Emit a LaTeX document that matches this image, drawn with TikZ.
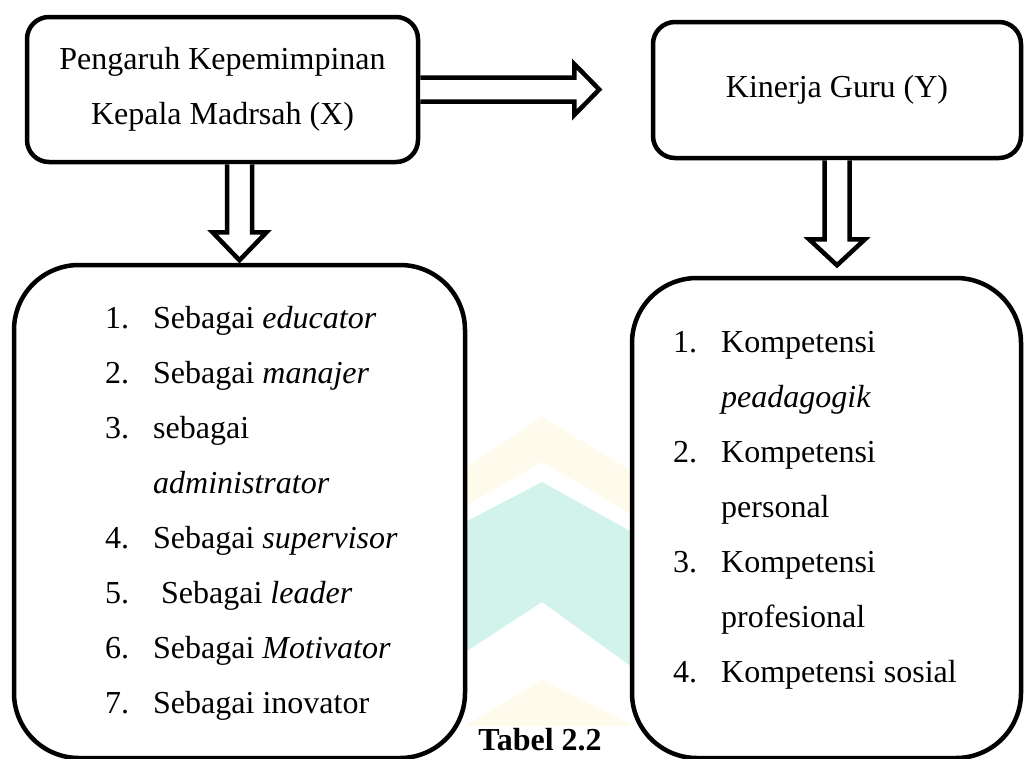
\documentclass[tikz,border=0pt]{standalone}
\usepackage{fontspec}
\setmainfont{Liberation Serif}
\usetikzlibrary{calc}

\definecolor{wmteal}{RGB}{210,242,236}
\definecolor{wmyellow}{RGB}{255,251,236}

\tikzset{
  box/.style={draw, line width=4.5pt, fill=white, rounded corners=22pt, align=center, inner sep=0pt},
  bigbox/.style={box, rounded corners=65pt},
  blockarr/.style={draw, line width=4.5pt, fill=white, line join=miter},
  listtxt/.style={inner sep=0pt, anchor=base west},
}

\begin{document}
\begin{tikzpicture}[x=1pt, y=-1pt, font=\fontsize{32}{55}\selectfont]

\useasboundingbox (0,0) rectangle (1025,758);

% --- Watermark (faint logo) ---
\fill[wmyellow] (450,478) -- (542,417) -- (650,482) -- (650,525) -- (542,462) -- (450,515) -- cycle;
\fill[wmteal] (450,530) -- (542,482) -- (650,542) -- (650,680) -- (542,602) -- (450,662) -- cycle;
\fill[wmyellow] (465,726) -- (542,680) -- (635,726) -- cycle;

% --- Boxes ---
\node[box, minimum width=391pt, minimum height=145pt] (kepala) at (222.5,89.5)
  {Pengaruh Kepemimpinan\\Kepala Madrsah (X)};
\node[box, minimum width=368pt, minimum height=136pt] (kinerja) at (837,90)
  {\raisebox{4pt}{Kinerja Guru (Y)}};
\node[bigbox, minimum width=451pt, minimum height=493pt] (peran) at (239.5,511.5) {};
\node[bigbox, minimum width=389pt, minimum height=480pt] (kompetensi) at (826.5,518) {};

% --- Block arrows ---
% X -> Y
\draw[blockarr] (kepala.east) +(0,-12) -- +(154,-12) -- +(154,-25.5) -- +(179,0)
  -- +(154,25.5) -- +(154,12) -- +(0,12);
% X -> roles
\draw[blockarr] (kepala.south -| peran.north) +(-12.5,0) -- +(-12.5,68) -- +(-27,68)
  -- +(0,96) -- +(27,68) -- +(12.5,68) -- +(12.5,0);
% Y -> competences
\draw[blockarr] (kinerja.south) +(-12.5,0) -- +(-12.5,79) -- +(-28,79)
  -- +(0,105) -- +(28,79) -- +(12.5,79) -- +(12.5,0);

% --- Lists ---
\node[listtxt] (peranlist) at (105,328) {\begin{tabular}[t]{@{}l@{\hspace{24pt}}l@{}}
  1. & Sebagai \textit{educator}\\
  2. & Sebagai \textit{manajer}\\
  3. & sebagai\\
     & \textit{administrator}\\
  4. & Sebagai \textit{supervisor}\\
  5. & \ Sebagai \textit{leader}\\
  6. & Sebagai \textit{Motivator}\\
  7. & Sebagai inovator
\end{tabular}};

\node[listtxt] (kompetensilist) at (673,352) {\begin{tabular}[t]{@{}l@{\hspace{24pt}}l@{}}
  1. & Kompetensi\\
     & \textit{peadagogik}\\
  2. & Kompetensi\\
     & personal\\
  3. & Kompetensi\\
     & profesional\\
  4. & Kompetensi sosial
\end{tabular}};

% --- Caption ---
\node[font=\fontsize{32}{55}\selectfont\bfseries, anchor=base, inner sep=0pt] (tabel) at (540,750) {Tabel 2.2};

\end{tikzpicture}
\end{document}
